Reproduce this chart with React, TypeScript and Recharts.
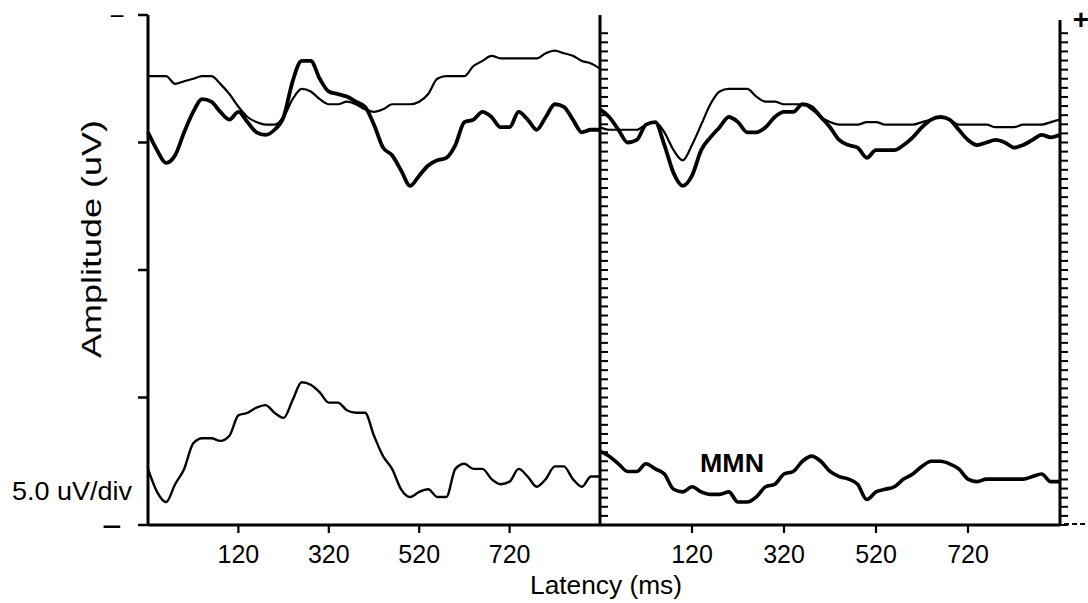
import { LineChart, Line, XAxis, YAxis } from "recharts";

// latency in ms, same grid for both panels
const latency = [
  -80, -60, -40, -20, 0, 20, 40, 60, 80, 100, 120, 140, 160, 180, 200, 220, 240,
  260, 280, 300, 320, 340, 360, 380, 400, 420, 440, 460, 480, 500, 520, 540, 560,
  580, 600, 620, 640, 660, 680, 700, 720, 740, 760, 780, 800, 820, 840, 860, 880,
  900, 920,
];

// amplitude in uV (negative plotted upward)
const leftStandard = [
  -7.6, -7.6, -7.6, -7.3, -7.4, -7.5, -7.6, -7.6, -7.3, -6.9, -6.4, -6.0, -5.8,
  -5.7, -5.7, -6.0, -6.7, -7.1, -7.0, -6.7, -6.5, -6.5, -6.6, -6.5, -6.3, -6.2,
  -6.3, -6.5, -6.5, -6.5, -6.6, -6.9, -7.5, -7.6, -7.6, -7.6, -8.0, -8.2, -8.4,
  -8.3, -8.3, -8.3, -8.3, -8.3, -8.5, -8.6, -8.5, -8.4, -8.2, -8.1, -7.9,
];
const leftDeviant = [
  -5.4, -4.7, -4.2, -4.5, -5.4, -6.2, -6.7, -6.6, -6.2, -5.9, -6.2, -5.8, -5.4,
  -5.3, -5.5, -6.0, -7.4, -8.2, -8.2, -7.5, -7.0, -6.9, -6.8, -6.6, -6.4, -5.7,
  -4.8, -4.5, -3.9, -3.3, -3.7, -4.1, -4.3, -4.4, -4.9, -5.8, -5.9, -6.2, -6.0,
  -5.6, -5.6, -6.2, -5.9, -5.5, -6.0, -6.5, -6.4, -5.9, -5.4, -5.5, -5.5,
];
const leftDiff = [
  7.8, 8.7, 9.1, 8.4, 7.8, 6.8, 6.6, 6.6, 6.7, 6.5, 5.7, 5.6, 5.4, 5.3, 5.6, 5.8,
  5.1, 4.4, 4.5, 4.8, 5.2, 5.2, 5.5, 5.6, 5.6, 6.5, 7.3, 7.8, 8.6, 8.9, 8.7, 8.6,
  8.9, 8.9, 7.8, 7.6, 7.8, 7.8, 8.2, 8.4, 8.3, 7.8, 8.1, 8.5, 8.2, 7.7, 7.7, 8.2,
  8.5, 8.1, 8.1,
];
const rightStandard = [
  -5.6, -5.5, -5.5, -5.5, -5.5, -5.7, -5.8, -5.4, -4.7, -4.3, -4.9, -5.7, -6.5,
  -7.0, -7.1, -7.1, -7.1, -6.8, -6.6, -6.6, -6.5, -6.5, -6.5, -6.3, -6.0, -5.8,
  -5.7, -5.7, -5.7, -5.8, -5.8, -5.7, -5.7, -5.7, -5.7, -5.8, -5.9, -6.0, -5.9,
  -5.7, -5.7, -5.7, -5.7, -5.6, -5.6, -5.6, -5.7, -5.7, -5.7, -5.8, -5.9,
];
const rightDeviant = [
  -6.3, -6.0, -5.5, -5.0, -5.1, -5.7, -5.8, -4.9, -3.8, -3.3, -3.7, -4.7, -5.2,
  -5.6, -6.0, -5.8, -5.4, -5.4, -5.6, -6.0, -6.2, -6.2, -6.5, -6.4, -6.0, -5.6,
  -5.1, -4.9, -4.8, -4.4, -4.7, -4.7, -4.7, -4.9, -5.2, -5.6, -5.9, -6.0, -5.9,
  -5.5, -5.1, -4.9, -5.0, -5.1, -5.0, -4.8, -4.9, -5.1, -5.3, -5.2, -5.3,
];
const rightMmn = [
  7.1, 7.3, 7.6, 7.9, 7.9, 7.6, 7.8, 8.0, 8.6, 8.7, 8.5, 8.7, 8.8, 8.8, 8.7, 9.1,
  9.1, 8.9, 8.5, 8.4, 8.0, 7.9, 7.5, 7.3, 7.5, 7.9, 8.1, 8.2, 8.4, 9.0, 8.7, 8.6,
  8.5, 8.2, 8.0, 7.7, 7.5, 7.5, 7.6, 7.8, 8.2, 8.3, 8.2, 8.2, 8.2, 8.2, 8.2, 8.1,
  8.0, 8.3, 8.3,
];

const latencyTicks = [120, 320, 520, 720];
const amplitudeTicks = [-10, -5, 0, 5, 10];
// 14 minor ticks per 5 uV division
const minorTicks = Array.from({ length: 55 }, (_, k) => 10 - (k * 5) / 14);

const leftData = latency.map((t, i) => ({
  t,
  std: leftStandard[i],
  dev: leftDeviant[i],
  diff: leftDiff[i],
}));
const rightData = latency.map((t, i) => ({
  t,
  std: rightStandard[i],
  dev: rightDeviant[i],
  diff: rightMmn[i],
}));

const font = '"Liberation Sans", Arial, Helvetica, sans-serif';
const axisLine = { stroke: "#000", strokeWidth: 3 };

const X_TICK = 8;
const X_GAP = 12;
const MAJOR = 10;
const MINOR = 8;

// tick line + label drawn together (x, y come from the axis as the label anchor)
function LatencyTick(props: any) {
  const { x, y, payload } = props;
  return (
    <g>
      <line x1={x} y1={y - X_GAP - X_TICK} x2={x} y2={y - X_GAP} stroke="#000" strokeWidth={2.2} />
      <text x={x} y={y} dy="0.71em" textAnchor="middle" fontSize={25} fontFamily={font} fill="#000">
        {payload.value}
      </text>
    </g>
  );
}

function MajorTick(props: any) {
  const { x, y } = props;
  return <line x1={x} y1={y} x2={x + MAJOR} y2={y} stroke="#000" strokeWidth={2.5} />;
}

function MinorTick(props: any) {
  const { x, y } = props;
  return <line x1={x - MINOR} y1={y} x2={x} y2={y} stroke="#000" strokeWidth={2} />;
}

export default function App() {
  return (
    <div
      style={{
        position: "absolute",
        left: 0,
        top: 0,
        width: 1088,
        height: 603,
        background: "#fff",
        fontFamily: font,
      }}
    >
      <div style={{ position: "absolute", left: 0, top: 0 }}>
        <LineChart
          width={1088}
          height={603}
          data={leftData}
          margin={{ top: 15, right: 468, bottom: 38, left: 88 }}
        >
          <XAxis
            dataKey="t"
            type="number"
            domain={[-80, 920]}
            ticks={latencyTicks}
            interval={0}
            height={40}
            tickSize={X_TICK}
            tickMargin={X_GAP}
            tick={<LatencyTick />}
            axisLine={axisLine}
            tickLine={false}
          />
          <YAxis
            yAxisId="main"
            type="number"
            domain={[-10, 10]}
            reversed
            ticks={amplitudeTicks}
            width={60}
            tickSize={MAJOR}
            tickMargin={0}
            tick={<MajorTick />}
            interval={0}
            axisLine={axisLine}
            tickLine={false}
          />
          <YAxis
            yAxisId="minor"
            orientation="right"
            type="number"
            domain={[-10, 10]}
            reversed
            ticks={minorTicks}
            width={20}
            tickSize={MINOR}
            tickMargin={0}
            tick={<MinorTick />}
            interval={0}
            axisLine={axisLine}
            tickLine={false}
          />
          <Line yAxisId="main" type="monotone" dataKey="std" stroke="#000" strokeWidth={2.2} dot={false} isAnimationActive={false} />
          <Line yAxisId="main" type="monotone" dataKey="dev" stroke="#000" strokeWidth={3.8} dot={false} isAnimationActive={false} />
          <Line yAxisId="minor" type="monotone" dataKey="diff" stroke="#000" strokeWidth={2.4} dot={false} isAnimationActive={false} />
        </LineChart>
      </div>

      <div style={{ position: "absolute", left: 0, top: 0 }}>
        <LineChart
          width={1088}
          height={603}
          data={rightData}
          margin={{ top: 20, right: 8, bottom: 38, left: 600 }}
        >
          <XAxis
            dataKey="t"
            type="number"
            domain={[-80, 920]}
            ticks={latencyTicks}
            interval={0}
            height={40}
            tickSize={X_TICK}
            tickMargin={X_GAP}
            tick={<LatencyTick />}
            axisLine={axisLine}
            tickLine={false}
          />
          <YAxis
            yAxisId="minor"
            orientation="right"
            type="number"
            domain={[-9.804, 10]}
            reversed
            ticks={minorTicks}
            width={20}
            tickSize={MINOR}
            tickMargin={0}
            tick={<MinorTick />}
            interval={0}
            axisLine={axisLine}
            tickLine={false}
          />
          <Line yAxisId="minor" type="monotone" dataKey="std" stroke="#000" strokeWidth={2.2} dot={false} isAnimationActive={false} />
          <Line yAxisId="minor" type="monotone" dataKey="dev" stroke="#000" strokeWidth={3.8} dot={false} isAnimationActive={false} />
          <Line yAxisId="minor" type="monotone" dataKey="diff" stroke="#000" strokeWidth={3.6} dot={false} isAnimationActive={false} />
        </LineChart>
      </div>

      <svg
        width={1088}
        height={603}
        style={{ position: "absolute", left: 0, top: 0, pointerEvents: "none" }}
        fontFamily={font}
      >
        <text x={117} y={25} fontSize={26} textAnchor="middle">−</text>
        <text x={112} y={538} fontSize={34} textAnchor="middle">−</text>
        <text x={1081} y={29} fontSize={28} fontWeight="bold" textAnchor="middle">+</text>
        <line x1={1064} y1={524} x2={1086} y2={524} stroke="#000" strokeWidth={2} strokeDasharray="5 3" />
        <text x={12} y={500} fontSize={25} textLength={120} lengthAdjust="spacingAndGlyphs">
          5.0 uV/div
        </text>
        <text
          x={0}
          y={0}
          fontSize={27}
          textAnchor="middle"
          textLength={238}
          lengthAdjust="spacingAndGlyphs"
          transform="translate(101 239) rotate(-90)"
        >
          Amplitude (uV)
        </text>
        <text x={606} y={594} fontSize={25} textAnchor="middle" textLength={152} lengthAdjust="spacingAndGlyphs">
          Latency (ms)
        </text>
        <text x={700} y={472} fontSize={25} fontWeight="bold" textLength={64} lengthAdjust="spacingAndGlyphs">
          MMN
        </text>
      </svg>
    </div>
  );
}
